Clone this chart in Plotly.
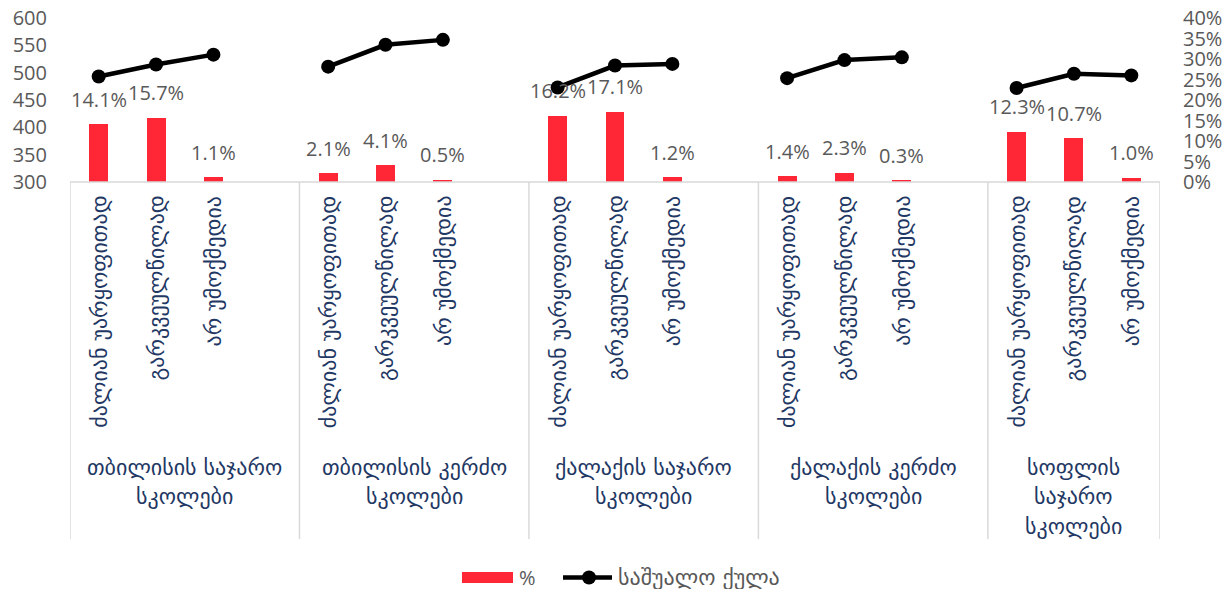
import plotly.graph_objects as go

# School groups (two-level category axis) and answer options
groups = [
    ["თბილისის საჯარო", "სკოლები"],
    ["თბილისის კერძო", "სკოლები"],
    ["ქალაქის საჯარო", "სკოლები"],
    ["ქალაქის კერძო", "სკოლები"],
    ["სოფლის", "საჯარო", "სკოლები"],
]
answers = ["ძალიან უარყოფითად", "გარკვეულწილად", "არ უმოქმედია"]

# Share of respondents per answer (%), one list per group
pct = [
    [14.1, 15.7, 1.1],
    [2.1, 4.1, 0.5],
    [16.2, 17.1, 1.2],
    [1.4, 2.3, 0.3],
    [12.3, 10.7, 1.0],
]
# Average score per answer, one list per group
score = [
    [493, 515, 533],
    [511, 551, 560],
    [473, 513, 516],
    [490, 523, 528],
    [472, 498, 495],
]

W, H = 1231, 589
L, R, T, B = 70, 71, 18, 407
PW, PH = W - L - R, H - T - B

def py(p):
    """pixel row -> paper y"""
    return (H - B - p) / PH

def px(p):
    """pixel column -> paper x"""
    return (p - L) / PW

GRAY = "#595959"
NAVY = "#1F3864"
LINEC = "#D9D9D9"
RED = "#FF2636"
GEO = "DejaVu Sans"
NUM = "Open Sans"
GEO_SIZE = 22
NUM_SIZE = 20

SLOTS = 4  # three answers + one spacer slot per group
xs, ys_pct, ys_score = [], [], []
for g in range(len(groups)):
    for i in range(len(answers)):
        xs.append(g * SLOTS + i)
        ys_pct.append(pct[g][i] / 100)
        ys_score.append(score[g][i])
    if g < len(groups) - 1:
        xs.append(g * SLOTS + 3)
        ys_pct.append(None)
        ys_score.append(None)

fig = go.Figure()
fig.add_trace(go.Bar(
    x=xs, y=ys_pct, yaxis="y", marker=dict(color=RED, line=dict(width=0)),
    width=0.33, name="%", showlegend=False,
))
fig.add_trace(go.Scatter(
    x=xs, y=ys_score, yaxis="y2", mode="lines+markers",
    line=dict(color="black", width=4.5), marker=dict(size=14, color="black"),
    name="საშუალო ქულა", showlegend=False, connectgaps=False,
))

ann = []
shapes = []
# data labels above the bars
for x, v in zip(xs, ys_pct):
    if v is None:
        continue
    ann.append(dict(x=x, y=v, xref="x", yref="y", text=f"{v*100:.1f}%",
                    showarrow=False, yanchor="middle", yshift=25,
                    font=dict(family=NUM, size=NUM_SIZE, color=GRAY)))

# rotated answer labels under each bar
for x, v in zip(xs, ys_pct):
    if v is None:
        continue
    i = x % SLOTS
    ann.append(dict(x=x, y=py(194), xref="x", yref="paper", text=answers[i],
                    textangle=-90, showarrow=False, xanchor="center", yanchor="top",
                    font=dict(family=GEO, size=GEO_SIZE, color=NAVY)))

# group labels, one annotation per line
for g, lines in enumerate(groups):
    n = min(SLOTS, len(xs) - g * SLOTS)
    cx = g * SLOTS + (n - 1) / 2
    for k, t in enumerate(lines):
        ann.append(dict(x=cx, y=py(467 + 29.5 * k), xref="x", yref="paper", text=t,
                        showarrow=False, xanchor="center", yanchor="middle",
                        font=dict(family=GEO, size=GEO_SIZE, color=NAVY)))

# category table lines
xmax = len(xs) - 0.5
shapes.append(dict(type="line", xref="x", yref="paper", x0=-0.5, x1=xmax, y0=0, y1=0,
                   line=dict(color=LINEC, width=1.5)))
for b in [-0.5] + [g * SLOTS + 3.5 for g in range(len(groups) - 1)] + [xmax]:
    shapes.append(dict(type="line", xref="x", yref="paper", x0=b, x1=b, y0=0, y1=py(539),
                       line=dict(color=LINEC, width=1.5)))

# legend
ly = py(577.5)
shapes.append(dict(type="rect", xref="paper", yref="paper", x0=px(462), x1=px(513),
                   y0=py(583), y1=py(572), fillcolor=RED, line=dict(width=0)))
ann.append(dict(x=px(517), y=ly, xref="paper", yref="paper", text="%", showarrow=False,
                xanchor="left", yanchor="middle", font=dict(family=NUM, size=NUM_SIZE, color=GRAY)))
shapes.append(dict(type="line", xref="paper", yref="paper", x0=px(563), x1=px(612),
                   y0=ly, y1=ly, line=dict(color="black", width=4.5)))
shapes.append(dict(type="circle", xref="paper", yref="paper", x0=px(582), x1=px(596),
                   y0=py(584.5), y1=py(570.5), fillcolor="black", line=dict(width=0)))
ann.append(dict(x=px(616), y=ly, xref="paper", yref="paper", text="საშუალო ქულა",
                showarrow=False, xanchor="left", yanchor="middle",
                font=dict(family=GEO, size=GEO_SIZE, color=GRAY)))

fig.update_layout(
    width=W, height=H, margin=dict(l=L, r=R, t=T, b=B, autoexpand=False),
    paper_bgcolor="white", plot_bgcolor="white",
    showlegend=False, bargap=0,
    xaxis=dict(range=[-0.5, xmax], showticklabels=False, showgrid=False,
               zeroline=False, showline=False, automargin=False),
    yaxis=dict(range=[0, 0.40], dtick=0.05, tickformat=".0%", side="right",
               showgrid=False, zeroline=False, showline=False, automargin=False,
               ticklabelstandoff=22,
               tickfont=dict(family=NUM, size=NUM_SIZE, color=GRAY)),
    yaxis2=dict(range=[300, 600], dtick=50, side="left", overlaying="y",
                showgrid=False, zeroline=False, showline=False, automargin=False,
                ticklabelstandoff=22,
                tickfont=dict(family=NUM, size=NUM_SIZE, color=GRAY)),
    annotations=ann, shapes=shapes,
)

fig.write_html("out.html")
